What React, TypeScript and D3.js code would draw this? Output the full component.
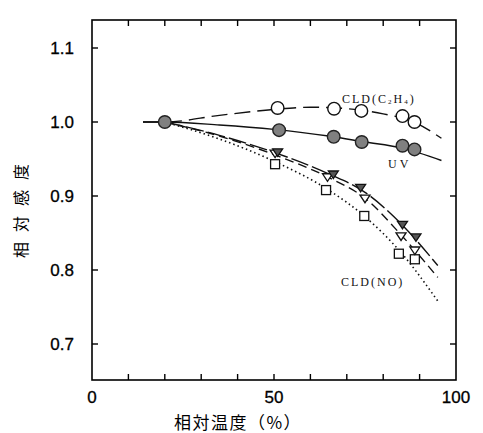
import * as d3 from 'd3';
import React from 'react';

// relative humidity (%) vs relative sensitivity
const xTicks = [0, 10, 20, 30, 40, 50, 60, 70, 80, 90, 100];
const xTickLabels = [0, 50, 100];
const yTicks = [0.7, 0.8, 0.9, 1.0, 1.1];

const c2h4X = [20, 51, 66.5, 74, 85.3, 88.6];
const c2h4Y = [1.0, 1.019, 1.018, 1.015, 1.008, 1.0];
const c2h4FitX = [14, 20, 35, 50, 60, 70, 80, 88, 96];
const c2h4FitY = [1.0, 1.0, 1.009, 1.017, 1.02, 1.018, 1.011, 1.001, 0.978];

const uvX = [20, 51.4, 66.4, 74.1, 85.3, 88.6];
const uvY = [1.0, 0.989, 0.98, 0.973, 0.968, 0.963];
const uvFitX = [14, 20, 35, 50, 65, 75, 85, 96];
const uvFitY = [1.0, 1.0, 0.996, 0.99, 0.981, 0.973, 0.965, 0.948];

const triFX = [51, 66.3, 73.8, 85.3, 89];
const triFY = [0.957, 0.927, 0.909, 0.859, 0.842];
const triFFitX = [20, 35, 50, 65, 75, 85, 95];
const triFFitY = [1.0, 0.982, 0.959, 0.93, 0.905, 0.862, 0.806];

const triOX = [50.3, 64.7, 75, 84.9, 88.7];
const triOY = [0.958, 0.926, 0.897, 0.846, 0.827];
const triOFitX = [20, 35, 50, 65, 75, 85, 95];
const triOFitY = [1.0, 0.981, 0.956, 0.925, 0.897, 0.847, 0.79];

const sqX = [50.3, 64.3, 74.8, 84.3, 88.7];
const sqY = [0.943, 0.908, 0.873, 0.822, 0.8145];
const sqFitX = [20, 35, 50, 65, 75, 85, 95];
const sqFitY = [1.0, 0.977, 0.947, 0.908, 0.872, 0.823, 0.758];

const W = 483;
const H = 433;
const left = 92, right = 456, top = 20, bottom = 380;

const App = () => {
  const x = d3.scaleLinear().domain([0, 100]).range([left, right]);
  const y = d3.scaleLinear().domain([0.7, 1.1]).range([344, 48]);
  const line = d3.line<number>().curve(d3.curveMonotoneX);

  const path = (xs: number[], ys: number[]) =>
    line.x((_, i) => x(xs[i])).y((_, i) => y(ys[i]))(xs) || '';

  const triDown = (cx: number, cy: number, s: number) =>
    `M${cx - s},${cy - s * 0.6}L${cx + s},${cy - s * 0.6}L${cx},${cy + s * 0.9}Z`;

  const jp = '"Noto Sans CJK JP", sans-serif';
  const num = '"Liberation Sans", Arial, sans-serif';
  const serif = '"Liberation Serif", "DejaVu Serif", serif';

  return (
    <svg width={W} height={H} style={{ position: 'absolute', left: 0, top: 0, background: '#fff' }}>
      <rect x={left} y={top} width={right - left} height={bottom - top} fill="none" stroke="#000" strokeWidth={1.6} />
      {xTicks.slice(1, -1).map(t => (
        <g key={'xt' + t} stroke="#000" strokeWidth={1.4}>
          <line x1={x(t)} x2={x(t)} y1={bottom} y2={bottom - 6} />
          <line x1={x(t)} x2={x(t)} y1={top} y2={top + 6} />
        </g>
      ))}
      {yTicks.map(t => (
        <g key={'yt' + t} stroke="#000" strokeWidth={1.4}>
          <line x1={left} x2={left + 6} y1={y(t)} y2={y(t)} />
          <line x1={right} x2={right - 6} y1={y(t)} y2={y(t)} />
        </g>
      ))}
      {yTicks.map(t => (
        <text key={'yl' + t} x={74} y={y(t) + 6} textAnchor="end" fontFamily={num} fontSize={17} fill="#000" stroke="#000" strokeWidth={0.3}>
          {t.toFixed(1)}
        </text>
      ))}
      {xTickLabels.map(t => (
        <text key={'xl' + t} x={x(t)} y={403} textAnchor="middle" fontFamily={num} fontSize={17} fill="#000" stroke="#000" strokeWidth={0.3}>
          {t}
        </text>
      ))}
      <text x={238} y={429} textAnchor="middle" fontFamily={jp} fontSize={17} letterSpacing={1.5} fill="#000">
        相対温度（%）
      </text>
      <text
        transform="translate(27,206) rotate(-90)"
        textAnchor="middle"
        fontFamily={jp}
        fontSize={16}
        letterSpacing={10}
        fill="#000"
      >
        相対感度
      </text>

      <g fill="none" stroke="#111" strokeWidth={1.4}>
        <path d={path(c2h4FitX, c2h4FitY)} strokeDasharray="16,7" />
        <path d={path(uvFitX, uvFitY)} />
        <path d={path(triFFitX, triFFitY)} strokeDasharray="18,4" />
        <path d={path(triOFitX, triOFitY)} strokeDasharray="9,5" />
        <path d={path(sqFitX, sqFitY)} strokeDasharray="1.5,3" strokeWidth={1.6} />
      </g>

      {sqX.map((v, i) => (
        <rect key={'sq' + i} x={x(v) - 4.5} y={y(sqY[i]) - 4.5} width={9} height={9} fill="#fff" stroke="#111" strokeWidth={1.3} />
      ))}
      {triOX.map((v, i) => (
        <path key={'to' + i} d={triDown(x(v), y(triOY[i]), 5)} fill="#fff" stroke="#111" strokeWidth={1.3} />
      ))}
      {triFX.map((v, i) => (
        <path key={'tf' + i} d={triDown(x(v), y(triFY[i]) - 2, 5)} fill="#555" stroke="#111" strokeWidth={1.3} />
      ))}
      {c2h4X.slice(1).map((v, i) => (
        <circle key={'c' + i} cx={x(v)} cy={y(c2h4Y[i + 1])} r={6.3} fill="#fff" stroke="#111" strokeWidth={1.4} />
      ))}
      {uvX.map((v, i) => (
        <circle key={'u' + i} cx={x(v)} cy={y(uvY[i])} r={6.3} fill="#808080" stroke="#222" strokeWidth={1.4} />
      ))}

      <text x={342} y={103} fontFamily={serif} fontSize={12} letterSpacing={2} fill="#111">
        CLD(C<tspan fontSize={7} dy={1}>2</tspan><tspan dy={-1}>H</tspan><tspan fontSize={7} dy={1}>4</tspan><tspan dy={-1}>)</tspan>
      </text>
      <text x={388} y={168} fontFamily={serif} fontSize={12} letterSpacing={3} fill="#111">UV</text>
      <text x={341} y={286} fontFamily={serif} fontSize={12} letterSpacing={2} fill="#111">CLD(NO)</text>
    </svg>
  );
};

export default App;
